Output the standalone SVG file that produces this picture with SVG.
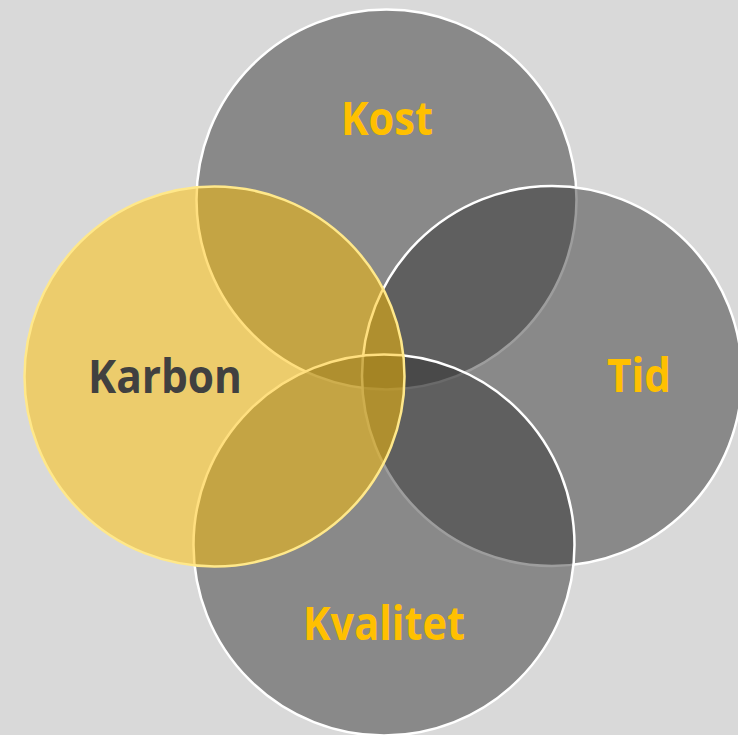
<svg xmlns="http://www.w3.org/2000/svg" width="738" height="735" viewBox="0 0 738 735">
<style>
.g{fill:#333333;fill-opacity:0.48;stroke:#ffffff;stroke-width:2.5}
.y{fill:#FFC000;fill-opacity:0.5;stroke:#ffe88a;stroke-width:2.5}
.t{font-family:"Open Sans","Liberation Sans",sans-serif;font-weight:700;font-size:47px}
.ty{fill:#FFC000}
.td{fill:#404040}
</style>
<rect width="738" height="735" fill="#d9d9d9"/>
<g id="kost"><circle class="g" cx="386.5" cy="199.5" r="190"/></g>
<g id="tid"><circle class="g" cx="552" cy="376" r="190"/></g>
<g id="kvalitet"><circle class="g" cx="384" cy="545" r="190.5"/></g>
<g id="karbon"><circle class="y" cx="214.5" cy="376.5" r="190"/></g>
<g id="labels">
<text class="t ty" x="341" y="135" textLength="92" lengthAdjust="spacingAndGlyphs">Kost</text>
<text class="t td" x="88" y="393" textLength="154" lengthAdjust="spacingAndGlyphs">Karbon</text>
<text class="t ty" x="607" y="392" textLength="64" lengthAdjust="spacingAndGlyphs">Tid</text>
<text class="t ty" x="303" y="640" textLength="162" lengthAdjust="spacingAndGlyphs">Kvalitet</text>
</g>
<g id="connectors"></g>
</svg>
